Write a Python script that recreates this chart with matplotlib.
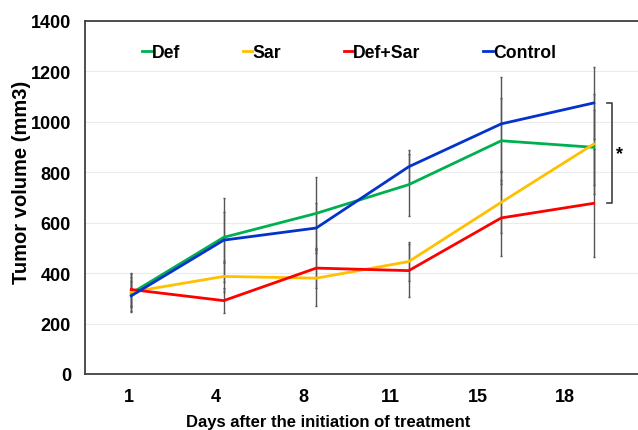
import numpy as np
import matplotlib
matplotlib.use("Agg")
import matplotlib.pyplot as plt

plt.rcParams['font.family'] = ['Liberation Sans', 'DejaVu Sans']
plt.rcParams['font.weight'] = 'bold'

# Data
days = ['1', '4', '8', '11', '15', '18']
def_vol = [320, 542, 637, 751, 925, 899]
sar_vol = [325, 387, 380, 446, 681, 912]
defsar_vol = [335, 291, 420, 410, 619, 677]
control_vol = [310, 531, 579, 822, 992, 1075]

def_err = [75, 100, 143, 123, 170, 150]
sar_err = [60, 60, 110, 76, 120, 200]
defsar_err = [65, 50, 80, 106, 150, 214]
control_err = [60, 166, 100, 68, 185, 142]

series = [
    ('Def', def_vol, def_err, '#00b050'),
    ('Sar', sar_vol, sar_err, '#ffc000'),
    ('Def+Sar', defsar_vol, defsar_err, '#ff0000'),
    ('Control', control_vol, control_err, '#0432cc'),
]

fig = plt.figure(figsize=(6.38, 4.31), dpi=100)
ax = fig.add_axes([85 / 638, 1 - 375 / 431, 555 / 638, 353 / 431])

x = np.arange(len(days))

# error bars first, lines on top
for name, vals, err, color in series:
    ax.errorbar(x, vals, yerr=err, fmt='none', ecolor='#555555',
                elinewidth=1.0, capsize=1.0, capthick=1.0, zorder=2)
for name, vals, err, color in series:
    ax.plot(x, vals, color=color, lw=2.0, label=name, zorder=3)

ax.set_xlim(-0.5, 5.5)
ax.set_ylim(0, 1400)
ax.set_yticks(range(0, 1401, 200))
ax.set_xticks(x * 0.944 - 0.03)
ax.set_xticklabels(days)
ax.tick_params(axis='both', length=0, labelsize=13, pad=10)
ax.grid(axis='y', color='#ebebeb', lw=0.8, zorder=0)
ax.set_axisbelow(True)

for s in ['left', 'bottom', 'top']:
    ax.spines[s].set_color('#404040')
    ax.spines[s].set_linewidth(1.3)
ax.spines['right'].set_visible(False)

ax.set_ylabel('Tumor volume (mm3)', fontsize=14.5, fontweight='bold')
ax.yaxis.set_label_coords(-0.097, 0.547)
ax.set_xlabel('Days after the initiation of treatment', fontsize=12,
              fontweight='bold')
ax.xaxis.set_label_coords(0.438, -0.113)

leg = ax.legend(ncol=4, loc='center left', bbox_to_anchor=(0.09, 0.91),
                frameon=False, fontsize=12.7, handlelength=0.55,
                handletextpad=0.0, columnspacing=3.55, borderaxespad=0)
for t in leg.get_texts():
    t.set_fontweight('bold')

# significance bracket between Control and Def+Sar at day 18
top = control_vol[-1]
bot = defsar_vol[-1]
bx0, bx1 = 5.14, 5.2
ax.plot([bx0, bx1, bx1, bx0], [top, top, bot, bot], color='#404040',
        lw=1.2, clip_on=False)
ax.text(5.28, (top + bot) / 2, '*', fontsize=13, fontweight='bold',
        ha='center', va='center')

fig.savefig('out.png', dpi=100)
